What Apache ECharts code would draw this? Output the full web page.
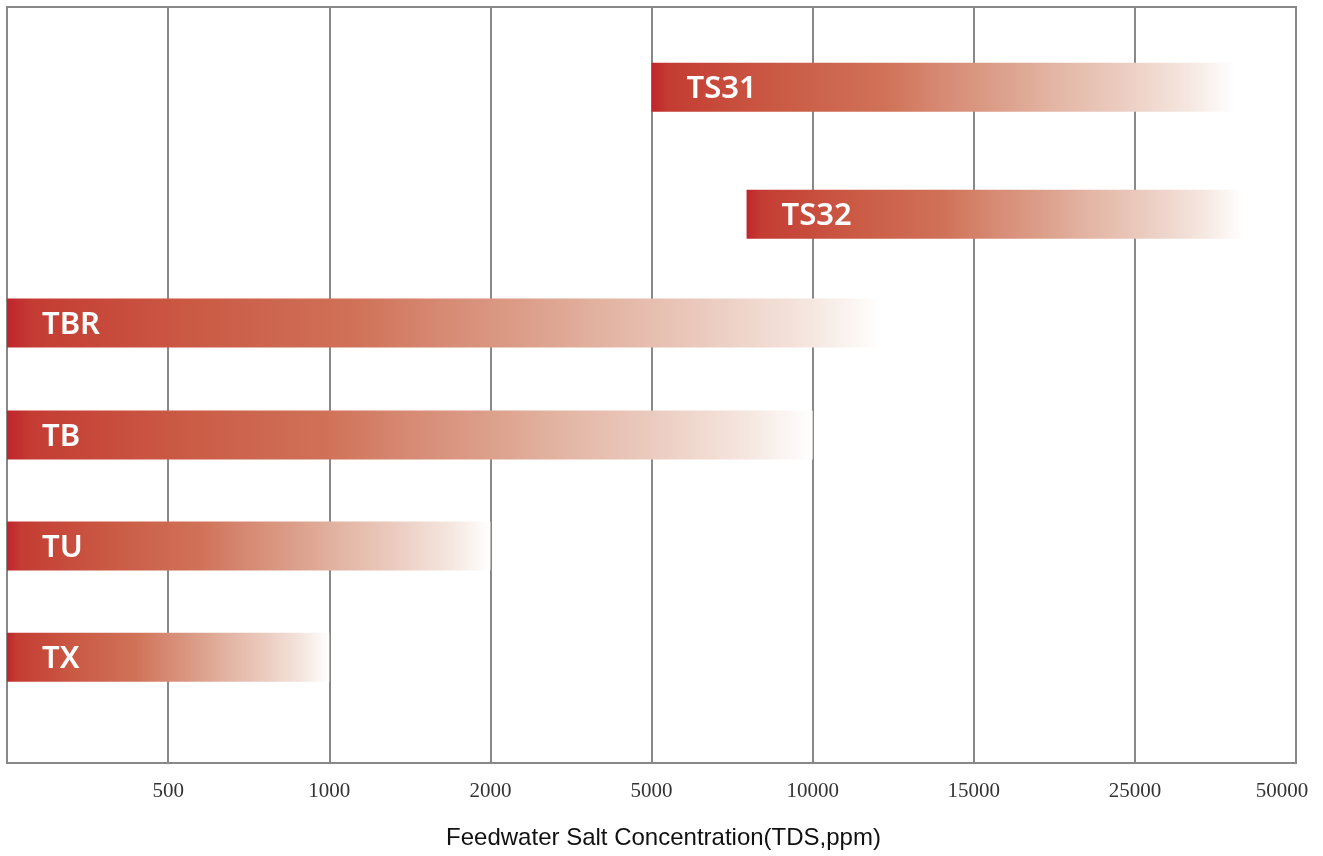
<!DOCTYPE html>
<html>
<head>
<meta charset="utf-8">
<style>
  html, body { margin: 0; padding: 0; background: #fff; }
  #main { width: 1323px; height: 856px; }
</style>
<script src="https://cdn.jsdelivr.net/npm/echarts@6/dist/echarts.min.js"></script>
</head>
<body>
<div id="main"></div>
<script>
// tick labels along the (non-linear) TDS axis, one per grid line
const tickLabels = ['', '500', '1000', '2000', '5000', '10000', '15000', '25000', '50000'];
// membrane series
const names = ['TS31', 'TS32', 'TBR', 'TB', 'TU', 'TX'];
// start / end of each range, in tick-index units
const rangeStart = [4, 4.59, 0, 0, 0, 0];
const rangeEnd = [7.62, 7.67, 5.43, 5, 3, 2];
// vertical lane of each bar (0..10 value axis)
const lanes = [8.94, 7.26, 5.82, 4.34, 2.87, 1.40];

const myChart = echarts.init(document.getElementById('main'));

const barData = names.map((n, i) => [rangeStart[i], rangeEnd[i], lanes[i], n]);

function renderBar(params, api) {
    const p0 = api.coord([api.value(0), api.value(2)]);
    const p1 = api.coord([api.value(1), api.value(2)]);
    const h = 49;
    return {
        type: 'group',
        children: [
            {
                type: 'rect',
                shape: { x: p0[0], y: p0[1] - h / 2, width: p1[0] - p0[0], height: h },
                style: {
                    fill: new echarts.graphic.LinearGradient(0, 0, 1, 0, [
                        { offset: 0, color: '#c0252b' },
                        { offset: 0.03, color: '#c43c33' },
                        { offset: 0.2, color: '#ca5843' },
                        { offset: 0.4, color: '#d07258' },
                        { offset: 0.5, color: '#d78a74' },
                        { offset: 0.6, color: '#dca08b' },
                        { offset: 0.69, color: '#e3b5a4' },
                        { offset: 0.8, color: '#ebcbbf' },
                        { offset: 0.92, color: '#f5e7e0' },
                        { offset: 1, color: '#ffffff' }
                    ])
                }
            },
            {
                type: 'text',
                x: p0[0] + 35,
                y: p0[1] + 2,
                style: {
                    text: api.value(3),
                    fill: '#fff',
                    fontFamily: 'Noto Sans',
                    fontWeight: 600,
                    fontSize: 31,
                    verticalAlign: 'middle'
                }
            }
        ]
    };
}

const option = {
    animation: false,
    grid: {
        left: 7,
        right: 27,
        top: 7,
        bottom: 93,
        show: true,
        borderColor: '#888',
        borderWidth: 2,
        backgroundColor: 'transparent'
    },
    xAxis: {
        type: 'value',
        min: 0,
        max: 8,
        interval: 1,
        name: 'Feedwater Salt Concentration(TDS,ppm)',
        nameLocation: 'middle',
        nameGap: 63,
        nameTextStyle: {
            fontFamily: 'Liberation Sans',
            fontSize: 24,
            color: '#111',
            padding: [0, 0, 0, 24]
        },
        axisLine: { show: false },
        axisTick: { show: false },
        axisLabel: {
            margin: 18,
            fontFamily: 'Liberation Serif',
            fontSize: 21,
            color: '#333',
            formatter: (v) => {
                const s = tickLabels[Math.round(v)] || '';
                return Math.round(v) === tickLabels.length - 1 ? '{last|' + s + '}' : s;
            },
            rich: {
                last: {
                    fontFamily: 'Liberation Serif',
                    fontSize: 21,
                    color: '#333',
                    padding: [0, 28, 0, 0]
                }
            }
        },
        splitLine: { show: true, lineStyle: { color: '#888', width: 2 } }
    },
    yAxis: {
        type: 'value',
        min: 0,
        max: 10,
        show: false
    },
    series: [
        {
            type: 'custom',
            renderItem: renderBar,
            encode: { x: [0, 1], y: 2 },
            data: barData
        }
    ]
};
myChart.setOption(option);
window.addEventListener('resize', () => {
    myChart.resize();
});
</script>
</body>
</html>
